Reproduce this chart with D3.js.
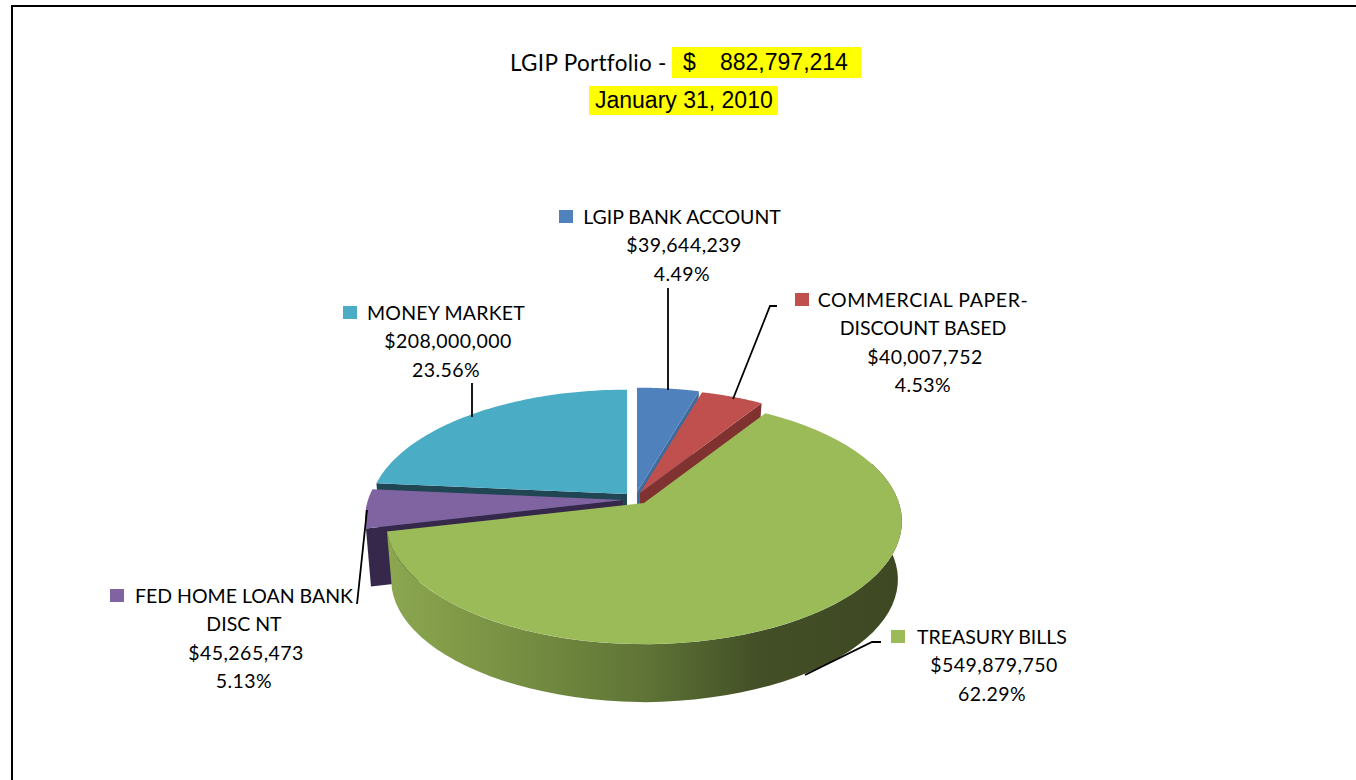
<!DOCTYPE html>
<html>
<head>
<meta charset="utf-8">
<script src="https://cdn.jsdelivr.net/npm/d3@7"></script>
<style>
  html, body { margin: 0; padding: 0; background: #fff; overflow: hidden; }
  text { font-family: Lato, sans-serif; fill: #000; }
  .arial { font-family: "Liberation Sans", sans-serif; }
</style>
</head>
<body>
<svg id="chart" width="1356" height="780"></svg>
<script>
const categories = ['LGIP BANK ACCOUNT', 'COMMERCIAL PAPER-DISCOUNT BASED', 'TREASURY BILLS', 'FED HOME LOAN BANK DISC NT', 'MONEY MARKET'];
const amounts = [39644239, 40007752, 549879750, 45265473, 208000000];
const amountLabels = ['$39,644,239', '$40,007,752', '$549,879,750', '$45,265,473', '$208,000,000'];
const percentLabels = ['4.49%', '4.53%', '62.29%', '5.13%', '23.56%'];
const topColors = ['#4f81bd', '#c0504d', '#9bbb59', '#8064a2', '#4bacc6'];
const wallColors = ['#3f6a9c', '#7f3230', '#3f4a24', '#36284a', '#1f4652'];

// where each slice sits against the pie centre: [dx, dy]
const sliceShift = [[-7, -11], [-4, -10], [0, 0], [-21, -3], [-17, -9]];
// which cut face of the slice can be seen
const visibleFace = ['end', 'end', null, 'start', 'start'];
const labelLines = [['LGIP BANK ACCOUNT'], ['COMMERCIAL PAPER-', 'DISCOUNT BASED'], ['TREASURY BILLS'], ['FED HOME LOAN BANK', 'DISC NT'], ['MONEY MARKET']];
const labelCentre = [682, 923, 992, 244, 446];
const labelTop = [217, 300, 637, 596, 313];
const keyLeft = [559, 795, 891, 110, 343];
const nameSpacing = [0, 0.6, 0, 0, 0.2];
const leaders = [
  [[668, 288], [668, 390]],
  [[777, 306], [770, 306], [733, 399]],
  [[881, 642], [872, 642], [805, 675]],
  [[367, 510], [357, 604]],
  [[472, 383], [472, 417]]
];

const svg = d3.select('#chart');
const cx = 644, cy = 503, rx = 255, ry = 120, persp = 0.15, depth = 58;

// tilted pie with a little perspective, front of the pie comes out bigger
function project(angle, shift) {
  const u = Math.sin(angle), v = -Math.cos(angle);
  const d = 1 - persp * v;
  return [cx + shift[0] + rx * u / d, cy + shift[1] + ry * v / d];
}

const slices = d3.pie().sort(null).value(d => d)(amounts);
const pathOf = d3.line().curve(d3.curveLinear);

function rimPoints(a0, a1, shift) {
  return d3.range(0, 61).map(i => project(a0 + (a1 - a0) * i / 60, shift));
}

// outer frame, open on the right and running off the bottom of the page
svg.append('path')
  .attr('d', 'M12,790V6H1360')
  .attr('fill', 'none')
  .attr('stroke', '#000')
  .attr('stroke-width', 2);

const defs = svg.append('defs');
const grad = defs.append('linearGradient')
  .attr('id', 'greenWall')
  .attr('gradientUnits', 'userSpaceOnUse')
  .attr('x1', 388).attr('x2', 902).attr('y1', 0).attr('y2', 0);
[[0, '#8ca750'], [0.25, '#768f42'], [0.5, '#5f7436'], [0.72, '#434f27'], [1, '#3e4923']].forEach(s => {
  grad.append('stop').attr('offset', s[0]).attr('stop-color', s[1]);
});

// back slices first, the treasury slice sits on top of everything
const drawOrder = [4, 0, 1, 3, 2];
const pie = svg.append('g');

drawOrder.forEach(i => {
  const s = slices[i], shift = sliceShift[i];
  const apex = [cx + shift[0], cy + shift[1]];
  const rim = rimPoints(s.startAngle, s.endAngle, shift);
  const down = p => [p[0] + (p[0] < cx ? 5 : -4), p[1] + depth];

  if (visibleFace[i]) {
    const p = visibleFace[i] === 'start' ? rim[0] : rim[rim.length - 1];
    pie.append('path')
      .attr('d', pathOf([apex, p, down(p), [apex[0], apex[1] + depth]]) + 'Z')
      .attr('fill', wallColors[i]);
  }

  // outer wall, only the part of the rim that faces us
  if (i === 2) {
    const front = rimPoints(Math.PI / 2 - 0.35, s.endAngle, shift);
    const wall = front.concat(front.slice().reverse().map(down));
    pie.append('path')
      .attr('d', pathOf(wall) + 'Z')
      .attr('fill', 'url(#greenWall)');
  }

  // top surface
  pie.append('path')
    .attr('d', pathOf([apex].concat(rim)) + 'Z')
    .attr('fill', topColors[i]);
});

leaders.forEach(pts => {
  svg.append('path')
    .attr('d', pathOf(pts))
    .attr('fill', 'none')
    .attr('stroke', '#000')
    .attr('stroke-width', 1.8);
});

// labels
const fontSize = 19.5, lineGap = 28.4;
categories.forEach((c, i) => {
  const names = labelLines[i];
  const text = svg.append('text')
    .attr('text-anchor', 'middle')
    .attr('font-size', fontSize);
  names.forEach((l, j) => {
    text.append('tspan')
      .attr('x', labelCentre[i])
      .attr('y', labelTop[i] + 7 + j * lineGap)
      .attr('letter-spacing', j === 0 ? nameSpacing[i] : 0)
      .text(l);
  });
  // the digits run a bit wider in the original font
  text.append('tspan')
    .attr('x', labelCentre[i] + 2)
    .attr('y', labelTop[i] + 7 + names.length * lineGap)
    .attr('letter-spacing', 0.45)
    .text(amountLabels[i]);
  text.append('tspan')
    .attr('x', labelCentre[i])
    .attr('y', labelTop[i] + 7 + (names.length + 1) * lineGap)
    .attr('letter-spacing', 0.45)
    .text(percentLabels[i]);
  svg.append('rect')
    .attr('x', keyLeft[i])
    .attr('y', labelTop[i] - 7)
    .attr('width', 14).attr('height', 13)
    .attr('fill', topColors[i]);
});

// title, the highlighted parts are in another font
svg.append('rect').attr('x', 672).attr('y', 47).attr('width', 189).attr('height', 31).attr('fill', '#ff0');
svg.append('rect').attr('x', 589).attr('y', 86).attr('width', 189).attr('height', 29).attr('fill', '#ff0');
svg.append('text').attr('x', 510).attr('y', 71).attr('font-size', 22.5).attr('letter-spacing', 0.3).text('LGIP Portfolio -');
svg.append('text').attr('class', 'arial').attr('x', 683).attr('y', 70).attr('font-size', 23).text('$');
svg.append('text').attr('class', 'arial').attr('x', 720).attr('y', 70).attr('font-size', 23).text('882,797,214');
svg.append('text').attr('class', 'arial').attr('x', 595).attr('y', 108).attr('font-size', 23).text('January 31, 2010');
</script>
</body>
</html>
